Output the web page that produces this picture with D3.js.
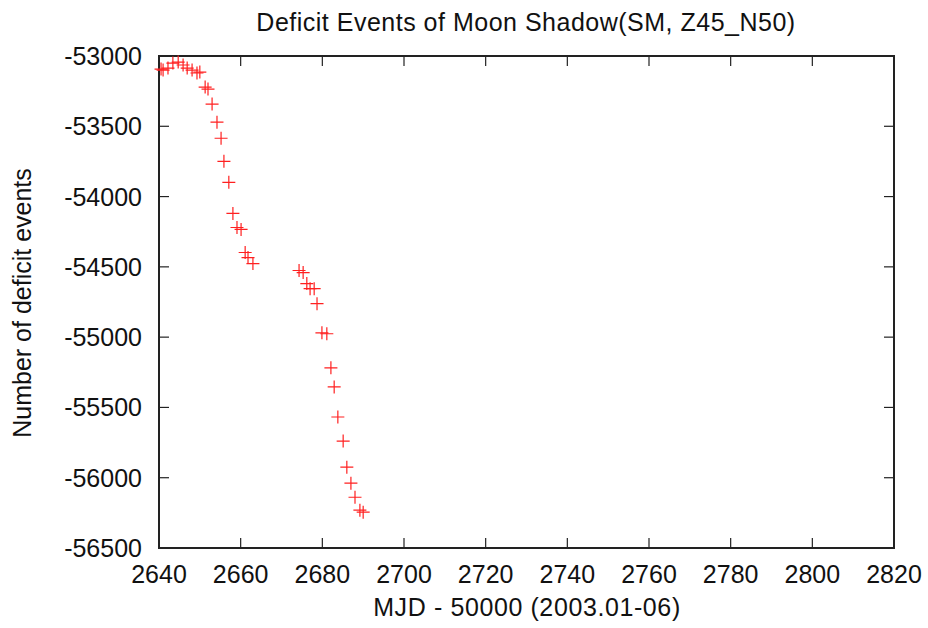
<!DOCTYPE html>
<html>
<head>
<meta charset="utf-8">
<script src="https://cdn.jsdelivr.net/npm/d3@7"></script>
<style>
  body { margin: 0; background: #fff; }
  text { font-family: "Liberation Sans", Arial, sans-serif; fill: #111; }
</style>
</head>
<body>
<div id="chart"></div>
<script>
// data (MJD - 50000, deficit events)
var mjd = [2640.5, 2641.0, 2642.2, 2643.4, 2644.7, 2645.9, 2646.9, 2648.1, 2649.3, 2650.0,
           2651.3, 2652.0, 2653.0, 2654.2, 2655.2, 2655.9, 2657.1, 2658.1, 2659.1, 2660.1,
           2661.1, 2661.8, 2663.0,
           2674.3, 2675.3, 2676.2, 2677.0, 2678.0, 2678.7, 2679.9, 2681.1, 2682.1, 2682.9,
           2683.8, 2685.1, 2686.0, 2687.0, 2688.0, 2689.2, 2690.0]
var deficit = [-53093, -53100, -53086, -53050, -53043, -53064, -53086, -53100, -53121, -53114,
               -53221, -53235, -53342, -53471, -53585, -53749, -53899, -54120, -54220, -54234,
               -54398, -54434, -54477,
               -54526, -54541, -54619, -54655, -54655, -54762, -54969, -54976, -55218, -55354,
               -55568, -55739, -55925, -56039, -56139, -56231, -56245]

var xTicks = [2640, 2660, 2680, 2700, 2720, 2740, 2760, 2780, 2800, 2820]
var yTicks = [-53000, -53500, -54000, -54500, -55000, -55500, -56000, -56500]

var width = 928, height = 628
// plot box (window.top is read-only, so no plain "top" here)
var pLeft = 159, pRight = 894, pTop = 56, pBottom = 548
var tickLen = 10
var fontSize = 25

var svg = d3.select("#chart").append("svg")
    .attr("width", width)
    .attr("height", height)

var x = d3.scaleLinear().domain([2640, 2820]).range([pLeft, pRight])
var y = d3.scaleLinear().domain([-56500, -53000]).range([pBottom, pTop])

// tick marks on all four sides (pointing inward)
var frame = svg.append("g").attr("stroke", "#222").attr("stroke-width", 1.2)
xTicks.forEach(function(t){
    frame.append("line").attr("x1", x(t)).attr("x2", x(t)).attr("y1", pBottom).attr("y2", pBottom - tickLen)
    frame.append("line").attr("x1", x(t)).attr("x2", x(t)).attr("y1", pTop).attr("y2", pTop + tickLen)
})
yTicks.forEach(function(t){
    frame.append("line").attr("x1", pLeft).attr("x2", pLeft + tickLen).attr("y1", y(t)).attr("y2", y(t))
    frame.append("line").attr("x1", pRight).attr("x2", pRight - tickLen).attr("y1", y(t)).attr("y2", y(t))
})

svg.append("rect")
    .attr("x", pLeft).attr("y", pTop)
    .attr("width", pRight - pLeft).attr("height", pBottom - pTop)
    .attr("fill", "none").attr("stroke", "#222").attr("stroke-width", 2)

// tick labels
svg.selectAll(".xlab").data(xTicks).enter().append("text")
    .attr("x", function(d){ return x(d) })
    .attr("y", pBottom + 35)
    .attr("text-anchor", "middle")
    .attr("font-size", fontSize)
    .text(function(d){ return d })

svg.selectAll(".ylab").data(yTicks).enter().append("text")
    .attr("x", pLeft - 17)
    .attr("y", function(d){ return y(d) + 9 })
    .attr("text-anchor", "end")
    .attr("font-size", fontSize)
    .text(function(d){ return d })

// points as red crosses
svg.append("g").selectAll("path").data(mjd).enter().append("path")
    .attr("transform", function(d, i){ return "translate(" + x(d) + "," + y(deficit[i]) + ")" })
    .attr("d", "M-6.5,0H6.5M0,-6.5V6.5")
    .attr("stroke", "#ff2020")
    .attr("stroke-width", 1.2)
    .attr("fill", "none")

// titles
svg.append("text")
    .attr("x", 526).attr("y", 31)
    .attr("text-anchor", "middle")
    .attr("font-size", fontSize)
    .attr("letter-spacing", 0.5)
    .text("Deficit Events of Moon Shadow(SM, Z45_N50)")

svg.append("text")
    .attr("x", 527).attr("y", 616)
    .attr("text-anchor", "middle")
    .attr("font-size", fontSize)
    .attr("letter-spacing", 0.6)
    .text("MJD - 50000 (2003.01-06)")

svg.append("text")
    .attr("transform", "translate(31,303) rotate(-90)")
    .attr("text-anchor", "middle")
    .attr("font-size", fontSize)
    .text("Number of deficit events")
</script>
</body>
</html>
